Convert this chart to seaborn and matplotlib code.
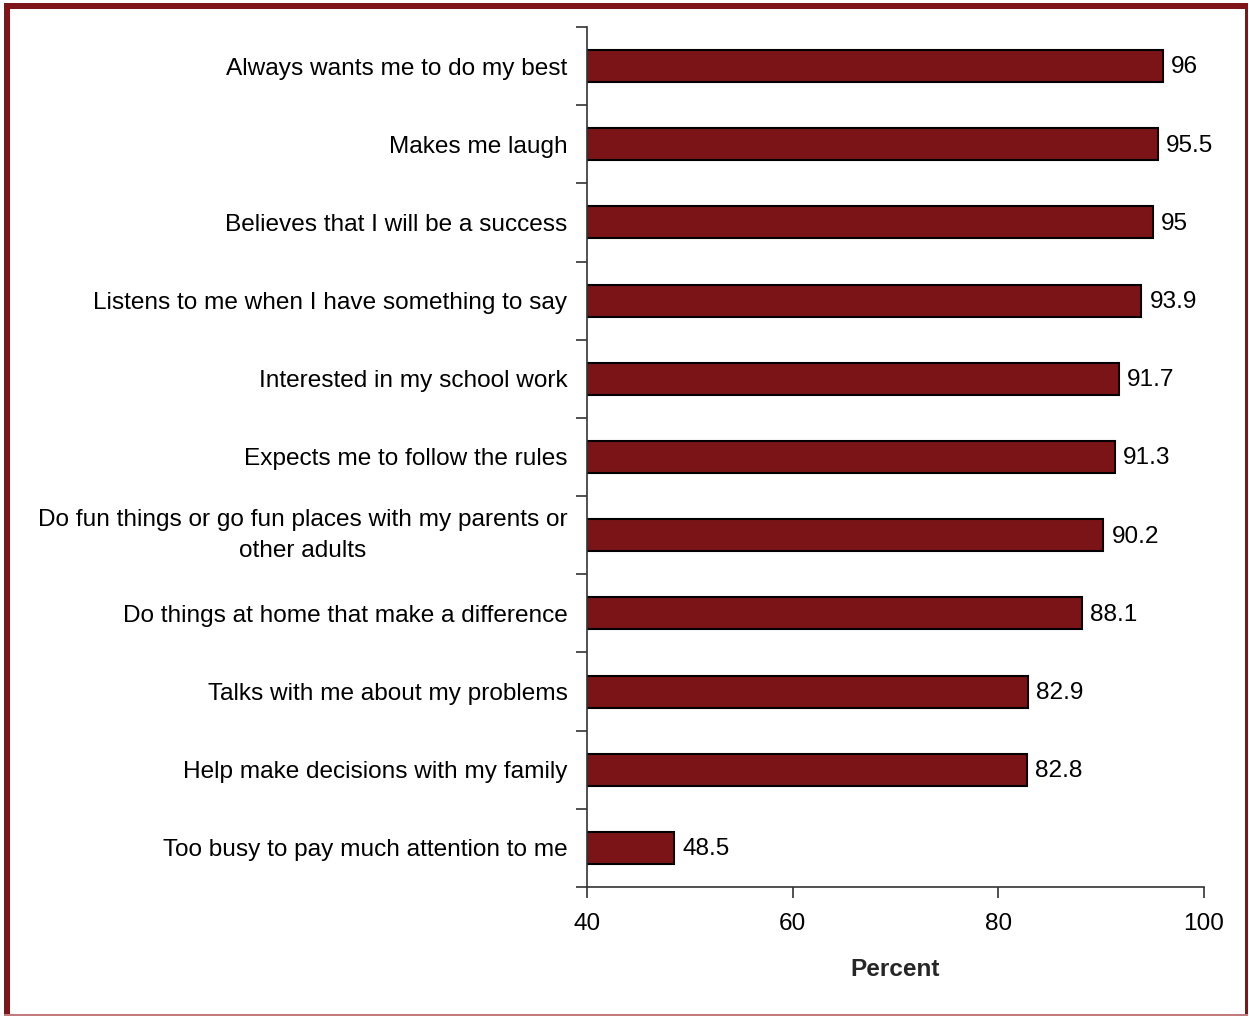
import matplotlib
matplotlib.use("Agg")
import matplotlib.pyplot as plt
from matplotlib.patches import Rectangle
import seaborn as sns
import pandas as pd
import numpy as np

categories = [
    "Always wants me to do my best",
    "Makes me laugh",
    "Believes that I will be a success",
    "Listens to me when I have something to say",
    "Interested in my school work",
    "Expects me to follow the rules",
    "Do fun things or go fun places with my parents or\nother adults",
    "Do things at home that make a difference",
    "Talks with me about my problems",
    "Help make decisions with my family",
    "Too busy to pay much attention to me",
]
values = [96, 95.5, 95, 93.9, 91.7, 91.3, 90.2, 88.1, 82.9, 82.8, 48.5]
value_labels = ["96", "95.5", "95", "93.9", "91.7", "91.3", "90.2", "88.1", "82.9", "82.8", "48.5"]
x_ticks = [40, 60, 80, 100]

bar_color = "#7B1416"
frame_color = "#7E1518"
fs = 17.6

sns.set_theme(style="white")
plt.rcParams["font.family"] = ["Liberation Sans", "DejaVu Sans"]

W, H = 1249, 1017
fig = plt.figure(figsize=(W / 100, H / 100), dpi=100)
ax = fig.add_axes([587 / W, 1 - 887 / H, (1204 - 587) / W, (887 - 27) / H])

df = pd.DataFrame({"item": categories, "pct": values})
sns.barplot(data=df, x="pct", y="item", orient="h", color=bar_color,
            saturation=1, width=0.41, edgecolor="black", linewidth=1.5, ax=ax)

ax.set_xlim(40, 100)
ax.set_ylim(len(categories) - 0.5, -0.5)
ax.set_xticks(x_ticks)
ax.set_xticklabels([str(t) for t in x_ticks], fontsize=fs)
ax.set_yticks(range(len(categories)))
ax.set_yticklabels(categories, fontsize=fs, multialignment="center", linespacing=1.55)
for lbl in ax.get_yticklabels():
    if "\n" in lbl.get_text():
        lbl.set_verticalalignment("center")
ax.set_yticks(np.arange(-0.5, len(categories) + 0.5, 1), minor=True)

ax.tick_params(axis="y", which="major", length=0, pad=14, colors="black")
ax.tick_params(axis="y", which="minor", left=True, length=8, width=1.2,
               direction="out", color="#333333")
ax.tick_params(axis="x", which="major", bottom=True, length=8, width=1.2,
               direction="out", color="#333333", pad=11, labelcolor="black")

for side in ["top", "right"]:
    ax.spines[side].set_visible(False)
for side in ["left", "bottom"]:
    ax.spines[side].set_color("#333333")
    ax.spines[side].set_linewidth(1.2)

ax.set_ylabel("")
ax.set_xlabel("Percent", fontsize=fs, fontweight="bold", labelpad=16)

for i, (v, lab) in enumerate(zip(values, value_labels)):
    ax.annotate(lab, xy=(v, i), xytext=(6, -1), textcoords="offset points",
                va="center", ha="left", fontsize=fs, color="black")

# Page frame
def px_rect(x0, y0, x1, y1, color):
    fig.add_artist(Rectangle((x0 / W, 1 - y1 / H), (x1 - x0) / W, (y1 - y0) / H,
                             transform=fig.transFigure, facecolor=color,
                             edgecolor="none", zorder=10))

px_rect(4, 3, 10, 1016, frame_color)
px_rect(4, 3, 1247, 9, frame_color)
px_rect(1245, 3, 1248, 1016, frame_color)
px_rect(4, 1014, 1248, 1016, "#C27A7C")

fig.savefig("out.png", dpi=100, facecolor="white")
